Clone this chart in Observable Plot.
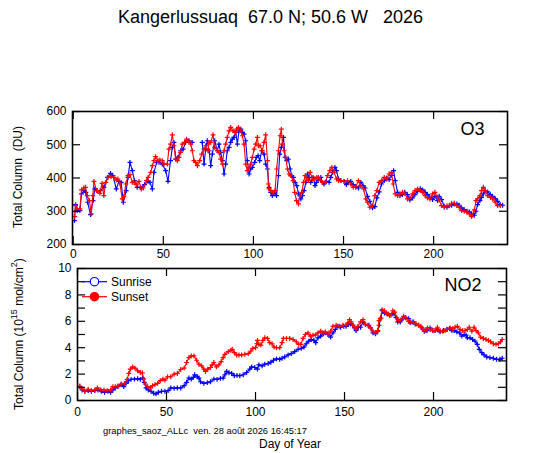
<!DOCTYPE html>
<html>
<head>
<meta charset="utf-8">
<script src="https://cdn.jsdelivr.net/npm/d3@7"></script>
<script src="https://cdn.jsdelivr.net/npm/@observablehq/plot@0.6"></script>
<style>
  html, body { margin: 0; padding: 0; background: #fff; }
  #wrap { position: relative; width: 540px; height: 453px; background: #fff; font-family: "Liberation Sans", Arial, sans-serif; overflow: hidden; }
  #wrap > .panel { position: absolute; left: 0; }
  #overlay { position: absolute; left: 0; top: 0; pointer-events: none; }
  #overlay text { white-space: pre; }
</style>
</head>
<body>
<div id="wrap"></div>
<script>
// ---------------- DATA ----------------
const title = "Kangerlussuaq  67.0 N; 50.6 W   2026";
const footer = "graphes_saoz_ALLc  ven. 28 août 2026 16:45:17";
const seriesNames = ["Sunrise", "Sunset"];
const seriesColors = ["#0000ff", "#ff0000"];
const xTicks = [0, 50, 100, 150, 200];
const o3Ticks = [200, 300, 400, 500, 600];
const no2Ticks = [0, 2, 4, 6, 8, 10];
const no2MinorTicks = [0, 1, 2, 3, 4, 5, 6, 7, 8, 9, 10];

// O3 sunrise (blue)
const o3RiseDay = [0.7,1.3,2.2,3.7,4.6,6,7,8,9.6,11,12,13.3,15,17,19,20.7,22,23.9,25.4,26.6,27.8,29.4,30.4,31.5,32.8,34,35.5,37.4,39.6,41.5,42.6,43.9,44.8,46.3,47.6,49.4,51.3,52.6,54,55,55.9,57,58.1,59.6,61,62.4,64.2,66,69,71.6,72.6,73.5,74.4,75.4,76.3,77.2,78.5,80,80.9,81.8,82.8,83.7,84.6,85.5,86.5,87.4,88.3,89.2,90.2,91.1,92,93,93.9,94.8,95.7,96.6,97.6,98.5,99.4,100.7,101.6,102.6,103.5,104.6,105.9,106.8,107.8,108.7,109.6,110.5,111.8,112.8,113.9,114.6,115.5,116.7,117.6,118.5,119.4,120.4,121.3,122.2,123.1,124.1,125,126.3,127.2,128.1,129.1,130,130.9,131.8,133.1,134.2,135,136.1,137.4,138.3,139.2,140.5,142,142.9,143.9,145.2,146.1,147.2,148.5,150.3,151.6,152.8,154,155.4,156.8,158.3,159.6,160.9,162,163.3,164.6,166.1,167.4,168.5,169.8,171.1,172.6,174,175.3,176.6,177.8,178.7,180,181.3,182.7,184,185.5,186.8,188.3,189.6,191.1,192.6,193.9,195.3,196.6,197.9,199.4,200.7,202.2,203.1,204.4,205.9,207.4,208.7,210,211.5,212.9,214.2,215.5,217,218.5,219.8,221.1,222.6,223.5,224.4,225.7,226.6,227.6,228.7,230,231.5,232.7,234.2,235.5,237,238.3];
const o3Rise = [272,320,302,302,352,362,357,327,290,332,367,362,362,372,402,414,407,367,390,387,327,362,402,447,422,392,372,372,380,390,387,367,417,447,447,442,422,390,452,492,507,457,462,482,487,507,512,507,null,507,442,487,512,482,437,472,512,482,502,477,452,412,442,482,492,507,517,522,537,502,542,547,537,532,512,452,412,427,432,447,462,467,452,482,472,442,427,372,357,347,357,347,407,472,492,522,462,452,457,427,407,402,387,377,352,337,347,362,387,412,402,387,402,377,387,397,402,387,382,390,387,402,417,432,422,397,392,390,380,387,390,380,372,370,387,377,370,345,330,310,314,340,358,382,392,400,395,408,422,392,357,347,350,357,350,334,340,350,360,368,364,357,350,342,335,345,332,345,335,315,312,316,318,322,322,318,310,305,300,298,292,288,300,320,332,342,352,362,358,350,345,338,330,320,318];

// O3 sunset (red)
const o3SetDay = [0.7,1.3,2.2,3.7,4.6,5.9,6.8,7.8,9,10,10.9,11.5,13,14.8,16,17,18.1,19.4,21,22.6,23.9,24.8,25.9,27.2,28.1,29.2,30.4,31.5,32.8,33.7,35,36.5,37.8,38.9,40.7,41.6,43,43.9,44.8,45.7,47,48.1,49.4,50.4,52.2,53.1,54,55,55.9,56.8,57.8,58.7,59.6,60.5,61.8,62.9,64.2,65.2,66.1,67,67.9,68.9,70.2,71.3,72.6,73.5,74.8,75.4,76.3,77.6,78.5,80,80.9,81.8,82.8,83.7,84.6,85.5,86.5,87.4,88.7,89.8,90.7,91.7,93,93.9,94.8,95.7,96.6,97.6,98.5,99.4,100.4,101.3,102.2,102.8,103.7,105,105.9,106.8,107.8,108.3,108.7,109.6,110.9,112,112.9,113.9,114.8,115.5,116.1,117,117.9,118.9,119.8,120.7,122,122.9,123.9,125,125.7,126.8,127.8,128.7,129.6,130.5,131.5,132.8,134.1,135.2,136.1,137.4,138.3,139.8,141.1,142.4,143.5,144.8,146.1,147.2,148.5,150.3,152.2,154,155.4,156.8,158.3,159.6,161.1,162.4,163.3,164.6,166.1,167.4,168.5,169.8,171.1,172.6,174,175.3,176.6,177.6,178.7,180,181.3,182.7,184,185.5,186.8,188.3,189.6,191.1,192.6,193.9,195.3,196.6,197.9,199.4,200.7,202.2,203.1,204.4,205.9,207.4,208.7,210,211.5,212.9,214.2,215.5,217,218.5,219.8,221.1,222.6,223.5,224.4,225.7,226.6,227.6,228.7,230,231.5,232.7,234.2,235.5,237,238.3];
const o3Set = [284,317,307,307,364,370,372,347,332,292,347,390,362,354,384,347,387,402,404,402,394,397,384,337,344,382,407,410,387,387,380,390,367,370,392,402,417,437,452,464,452,454,452,442,442,487,502,530,497,457,452,462,477,502,507,517,510,502,482,452,447,437,452,472,487,497,482,507,507,530,492,482,477,457,442,482,502,522,542,552,542,537,547,552,542,527,502,442,422,432,442,462,487,502,522,497,497,482,507,530,452,382,367,362,357,362,427,482,527,547,502,482,462,427,412,407,392,357,332,322,347,357,387,407,397,392,417,397,397,402,402,392,387,387,407,422,432,417,397,392,392,390,392,382,372,374,392,377,367,337,327,312,317,347,362,387,392,402,397,412,417,382,352,347,352,357,354,337,340,352,362,367,362,357,347,340,337,352,357,342,334,317,312,317,317,324,324,317,312,302,300,297,292,284,304,332,337,347,362,372,362,347,342,337,327,317,317];

// NO2 sunrise (blue), 10^15 mol/cm2
const no2RiseDay = [1.3,2.6,4.1,6,7.8,9.7,11.5,13.4,15.2,17.1,18.6,19.9,21.2,22.7,24.5,26,27.3,28.6,30.1,32,33.8,35.3,36.6,37.5,38.5,39.8,41.3,42.8,44.1,45.4,47.2,49.1,50.9,52.4,54.3,56.1,58,59.9,61.3,62.6,63.9,65.1,65.8,67.3,68.2,69.1,71,72.9,74.7,76.6,78.4,80.3,81.8,82.8,83.8,85.1,86.6,88.1,89.6,91.2,93.1,95,96.8,97.8,99.6,101.1,101.9,103.7,105.2,107.1,108.6,110.1,111.8,113.6,114.9,116.4,118.3,120.1,122,123.9,125.7,127.2,128.5,129.9,131.3,132.8,133.8,135.1,136.6,138.1,139.2,140.7,142.2,143.5,144.8,146.3,147.8,149.6,150.9,152.2,153.4,154.7,155.6,156.5,157.8,159,160.4,161.8,163.7,164.6,166,167.4,168.7,169.4,170.5,171.1,172.4,173.9,175.4,176.7,177.6,178.9,179.9,181.3,182.8,184.1,186,186.9,188.4,189.7,191.6,193.5,194.8,196.3,198.1,199.6,200.9,202.2,203.7,205.6,207.5,209,210.3,211.6,213.1,214.6,215.9,217.2,218.3,219,220.5,222,223.3,224.6,225.7,227.1,228.4,229.9,231.7,233.6,235.4,237.3,238.6];
const no2Rise = [1.05,0.8,0.7,0.75,0.7,0.75,0.8,0.7,0.62,0.7,0.62,0.8,0.95,1.05,1.2,1.05,1.3,1.5,1.6,1.62,1.65,1.6,1.7,1.38,0.95,0.8,0.7,0.55,0.5,0.62,0.7,0.7,0.75,0.95,0.92,0.95,0.95,1.12,1.38,1.7,1.62,1.75,1.95,1.8,1.7,1.42,1.3,1.35,1.42,1.62,1.6,1.68,1.7,1.95,2.2,2.1,2.05,1.88,1.9,1.88,1.95,2.12,2.38,2.55,2.5,2.38,2.7,2.62,2.75,2.8,2.9,3.05,3.15,3.12,3.2,3.3,3.45,3.55,3.7,3.88,3.95,4.05,4.3,4.5,4.62,4.55,4.38,4.75,4.88,5.05,5.12,5,4.8,5.12,5.38,5.62,5.55,5.62,5.62,5.75,5.8,5.7,5.5,5.3,5.55,5.55,5.95,5.75,5.7,5.5,5.12,5.05,5.25,5.7,6.25,6.8,6.62,6.55,6.45,6.55,6.62,6.3,5.95,5.95,6.2,6.3,6.2,5.88,5.95,5.8,5.7,5.5,5.25,5.3,5.5,5.3,5.3,5.38,5.2,5.3,5.38,5.45,5.3,5.3,5.2,5.12,4.88,5,4.95,4.75,4.75,4.62,4.5,4.25,3.88,3.62,3.45,3.3,3.25,3.2,3.12,3.12,3.2];

// NO2 sunset (red)
const no2SetDay = [1.3,2.6,4.1,6,7.8,9.7,11.2,13,14.9,16.7,18.6,19.9,21.2,22.7,24.5,26.4,27.9,28.8,29.7,31,32.3,33.8,35.3,36.4,37.2,38.1,39.4,40.9,42.2,43.5,45,46.5,48,49.1,50.6,52.4,54.3,56.1,58,59.9,61.3,62.6,63.9,65.4,66.9,68.2,69.7,71,71.9,73.2,74.7,75.6,76.6,78,79.4,80.7,81.8,82.8,84.7,86.2,86.9,88.1,89.4,90.7,92.2,94,95.9,97.4,98.5,100,100.7,101.1,101.9,103,104.1,105.2,106.7,108,109.3,110.4,111.8,113.6,114.9,115.7,117.4,119.2,121.1,122.9,124.3,125.4,126.7,128,129.5,130.8,132.3,133.6,135.1,136.6,137.9,139.2,140.7,142.2,143.5,145.3,147.2,149.1,150.9,151.9,152.8,153.7,154.7,155.6,156.5,157.5,159,160.4,161.8,163.1,164.6,166,167.4,168.7,169.4,170.1,171.1,172.4,173.5,174.8,176.1,177.1,178.2,179.5,180.4,181.7,183.2,184.5,186,187.3,188.8,190.3,191.6,192.9,194,195.3,196.6,198.1,199.6,200.9,202.2,203.7,205.2,206.5,207.8,209.3,210.8,212.1,213.4,214.9,216.4,217.7,219,220.1,221.5,222.8,223.9,225.2,226.5,228,229.5,230.8,232.1,233.6,235.1,236.4,237.7,238.6];
const no2Set = [1.1,0.88,0.7,0.85,0.75,0.8,0.95,0.8,0.8,0.75,0.8,1.05,1.05,1.1,1.25,1.3,1.6,2.05,2.38,2.55,2.45,2.25,2.12,2.1,1.62,1.25,1.05,0.95,1.12,1.2,1.3,1.5,1.62,1.55,1.8,1.8,2,2.05,2.35,2.45,2.88,3.25,3.38,3.38,3.05,2.75,2.62,2.38,2.2,2.38,2.5,2.7,2.88,2.55,2.7,2.95,3.25,3.5,3.7,3.8,3.88,3.62,3.45,3.45,3.45,3.5,3.55,3.75,3.95,4,4.3,4.55,4.25,4.2,4.55,4.75,4.7,4.38,4.3,4.05,4,4,4.38,4.7,4.7,4.7,4.62,4.45,4.25,4.25,4.7,5,5.12,4.88,4.95,4.95,5.12,5.25,5.12,5.2,5.05,5.25,5.62,5.7,5.62,5.7,5.7,5.88,6.12,5.95,5.7,5.55,5.38,5.62,5.95,6.12,5.75,5.7,5.5,5.25,5.12,5.3,6.05,6.2,6.88,6.8,6.62,6.55,6.45,6.8,6.7,6.25,6.05,6.12,6.38,6.25,6,5.95,5.95,5.8,5.7,5.62,5.38,5.3,5.5,5.38,5.3,5.3,5.55,5.3,5.25,5.3,5.38,5.5,5.45,5.55,5.62,5.38,5.3,5.3,5.38,5.55,5.25,5.55,5.3,5.12,4.8,4.7,4.62,4.55,4.45,4.3,4.25,4.3,4.45,4.62];

// ---------------- BUILD ----------------
const toRows = (days, vals, s) => days.map((d, i) => ({day: d, v: vals[i], s}));
const o3Rows = [...toRows(o3RiseDay, o3Rise, seriesNames[0]), ...toRows(o3SetDay, o3Set, seriesNames[1])];
const no2Rows = [...toRows(no2RiseDay, no2Rise, seriesNames[0]), ...toRows(no2SetDay, no2Set, seriesNames[1])];

const FONT = '"Liberation Sans", Arial, sans-serif';
const W = 540;
const tickLen = 8;

function makePanel({rows, yDomain, yTicks, yMinor, xDomain, height, mt, mb, ml, mr, label, lx, ly, padX}) {
  const fw = W - ml - mr, fh = height - mt - mb;
  const rise = rows.filter(r => r.s === seriesNames[0]);
  const set = rows.filter(r => r.s === seriesNames[1]);
  return Plot.plot({
    width: W, height,
    marginTop: mt, marginBottom: mb, marginLeft: ml, marginRight: mr,
    style: {fontFamily: FONT, fontSize: "12px", color: "#000", background: "transparent", overflow: "visible"},
    x: {domain: xDomain, ticks: xTicks, tickSize: 0, tickPadding: padX, label: null},
    y: {domain: yDomain, ticks: yTicks, tickSize: 0, tickPadding: 6, label: null},
    marks: [
      Plot.line(rise, {x: "day", y: "v", stroke: seriesColors[0], strokeWidth: 1.1}),
      Plot.dot(rise.filter(r => r.v != null), {x: "day", y: "v", symbol: "plus", r: 1.7, stroke: seriesColors[0], strokeWidth: 1.2}),
      Plot.line(set, {x: "day", y: "v", stroke: seriesColors[1], strokeWidth: 1.1}),
      Plot.dot(set, {x: "day", y: "v", symbol: "plus", r: 1.7, stroke: seriesColors[1], strokeWidth: 1.2}),
      Plot.tickX(xTicks, {x: d => d, insetTop: fh - tickLen, stroke: "#000", strokeWidth: 1.2}),
      Plot.tickX(xTicks, {x: d => d, insetBottom: fh - tickLen, stroke: "#000", strokeWidth: 1.2}),
      Plot.tickY(yMinor, {y: d => d, insetRight: fw - tickLen, stroke: "#000", strokeWidth: 1.2}),
      Plot.tickY(yMinor, {y: d => d, insetLeft: fw - tickLen, stroke: "#000", strokeWidth: 1.2}),
      Plot.frame({stroke: "#000", strokeWidth: 1.6}),
      Plot.text([label], {frameAnchor: "top-right", dx: lx, dy: ly, lineAnchor: "middle", textAnchor: "end", fontSize: 18, fill: "#000"})
    ]
  });
}

const wrap = document.getElementById("wrap");

const o3Plot = makePanel({rows: o3Rows, yDomain: [200, 600], yTicks: o3Ticks, yMinor: o3Ticks, xDomain: [-0.4, 241],
  height: 165, mt: 11, mb: 21, ml: 72, mr: 33, label: "O3", lx: -23, ly: 18, padX: 5});
o3Plot.classList.add("panel"); o3Plot.style.top = "100px";
wrap.appendChild(o3Plot);

const no2Plot = makePanel({rows: no2Rows, yDomain: [0, 10], yTicks: no2Ticks, yMinor: no2MinorTicks, xDomain: [0, 241],
  height: 165, mt: 8, mb: 25, ml: 77, mr: 34, label: "NO2", lx: -25, ly: 17, padX: 7});
no2Plot.classList.add("panel"); no2Plot.style.top = "260px";
wrap.appendChild(no2Plot);

// overlay: title, axis titles, legend, footer
const ov = d3.select(wrap).append("svg").attr("id", "overlay").attr("width", 540).attr("height", 453)
  .attr("xml:space", "preserve")
  .style("font-family", FONT).style("fill", "#000");

ov.append("text").attr("x", 270.5).attr("y", 23).attr("text-anchor", "middle").attr("font-size", 18).text(title);

ov.append("text").attr("transform", "translate(22,177) rotate(-90)").attr("text-anchor", "middle")
  .attr("font-size", 12).text("Total Column  (DU)");

const yl2 = ov.append("text").attr("transform", "translate(23,334) rotate(-90)").attr("text-anchor", "middle").attr("font-size", 12);
yl2.append("tspan").text("Total Column (10");
yl2.append("tspan").attr("dy", -6).attr("font-size", 9).text("15");
yl2.append("tspan").attr("dy", 6).text(" mol/cm");
yl2.append("tspan").attr("dy", -6).attr("font-size", 9).text("2");
yl2.append("tspan").attr("dy", 6).text(")");

ov.append("text").attr("x", 103).attr("y", 434).attr("font-size", 9).attr("textLength", 204).attr("lengthAdjust", "spacingAndGlyphs").text(footer);
ov.append("text").attr("x", 290).attr("y", 448).attr("text-anchor", "middle").attr("font-size", 12).text("Day of Year");

// legend
const leg = ov.append("g");
seriesNames.forEach((name, i) => {
  const y = 281.7 + i * 15;
  leg.append("line").attr("x1", 82).attr("x2", 107).attr("y1", y).attr("y2", y).attr("stroke", seriesColors[i]).attr("stroke-width", 1.2);
  leg.append("circle").attr("cx", 94.5).attr("cy", y).attr("r", 4.2)
    .attr("fill", i === 0 ? "#fff" : seriesColors[i]).attr("stroke", seriesColors[i]).attr("stroke-width", 1.2);
  leg.append("text").attr("x", 111).attr("y", y).attr("dy", "0.35em").attr("font-size", 12).text(name);
});
</script>
</body>
</html>
